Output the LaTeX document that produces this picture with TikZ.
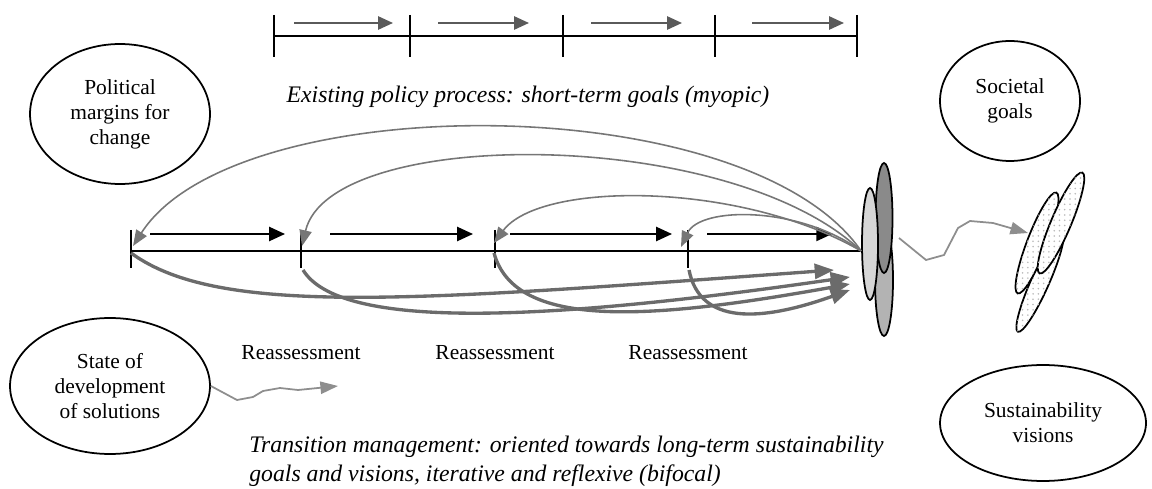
\documentclass[tikz,border=0pt]{standalone}
\usepackage{fontspec}
\setmainfont{Liberation Serif}
\newfontfamily\tnr{Liberation Serif}
\usepackage{tikz}
\usetikzlibrary{arrows.meta, positioning, shapes.geometric, patterns, calc}
\definecolor{arcgray}{HTML}{767676}
\definecolor{pushgray}{HTML}{6B6B6B}
\definecolor{topgray}{HTML}{5A5A5A}
\definecolor{driftgray}{HTML}{8E8E8E}
\definecolor{lowfill}{HTML}{B3B3B3}
\definecolor{darkfill}{HTML}{8A8A8A}
\definecolor{lightfill}{HTML}{D6D6D6}
\newcommand{\Txt}{\tnr\fontsize{12.2}{14.2}\selectfont}
\newcommand{\Slant}{\tnr\fontsize{13.5}{16.5}\selectfont\itshape}
\tikzset{
    tick/.pic = {
    \draw[line width=1.1pt] (0,-21) -- (0,#1);
    },
    goal/.style={draw, ellipse, line width=1pt, inner sep=0pt, align=center, font=\Txt},
    blob/.style={draw, ellipse, line width=1pt, inner sep=0pt},
    vision/.style={blob, fill=white, postaction={pattern=dots, pattern color=gray!55}},
    note/.style={inner sep=0pt, font=\Txt},
    lead/.style={line width=1.1pt, -{Triangle[length=9pt, width=8pt]}},
    runner/.style={topgray, line width=1.2pt, -{Triangle[length=8.5pt, width=7.5pt]}},
    back/.style={arcgray, line width=0.9pt, -{Triangle[length=9pt, width=7pt]}},
    push/.style={pushgray, line width=1.9pt, -{Triangle[length=11pt, width=8.5pt]}},
    drift/.style={driftgray, line width=1pt, -{Triangle[length=10pt, width=7pt]}},
}

\begin{document}
\begin{tikzpicture}[x=0.02cm, y=-0.02cm]
    \tikzset{
      node distance=1cm
    }
    \useasboundingbox (0,0) rectangle (1152,489);

    \coordinate (u0) at (274,36);
    \coordinate (u1) at (410,36);
    \coordinate (u2) at (563,36);
    \coordinate (u3) at (715,36);
    \coordinate (u4) at (857,36);

    \draw[line width=1.1pt] (u0) -- (u4);
    \path (u0) pic {tick=21} (u1) pic {tick=21} (u2) pic {tick=21} (u3) pic {tick=21} (u4) pic {tick=21};

    \draw[runner] ([shift={(20,-13)}]u0) -- ([shift={(-17,-13)}]u1);
    \draw[runner] ([shift={(28,-13)}]u1) -- ([shift={(-34,-13)}]u2);
    \draw[runner] ([shift={(28,-13)}]u2) -- ([shift={(-33,-13)}]u3);
    \draw[runner] ([shift={(37,-13)}]u3) -- ([shift={(-13,-13)}]u4);

    \node[font=\Slant] (ex) at (528,97) {Existing policy process: short-term goals (myopic)};

    \node[goal, minimum width=3.6cm, minimum height=2.8cm] (m) at (120,114) {Political\\margins for\\change};
    \node[goal, minimum width=4cm, minimum height=2.72cm] (s) at (110,386) {State of\\development\\of solutions};
    \node[goal, minimum width=2.8cm, minimum height=2.4cm] (g) at (1010,101) {Societal\\goals};
    \node[goal, minimum width=4.12cm, minimum height=2.32cm] (v) at (1043,423) {Sustainability\\visions};

    \node[blob, fill=lowfill, minimum width=0.36cm, minimum height=2.24cm] (c2) at (884,280) {};
    \node[blob, fill=darkfill, minimum width=0.34cm, minimum height=2.2cm] (c1) at (884,218) {};
    \node[blob, fill=lightfill, minimum width=0.32cm, minimum height=2.24cm] (c0) at (870,244) {};

    \coordinate (t1) at (131,251);
    \coordinate (t2) at (301,251);
    \coordinate (t3) at (495,251);
    \coordinate (t4) at (688,251);
    \coordinate (hub) at (c0.west |- t1);

    \draw[line width=1.1pt] (t1) -- (hub);
    \path (t1) pic {tick=17} (t2) pic {tick=17} (t3) pic {tick=17} (t4) pic {tick=17};

    \draw[lead] ([shift={(19,-17)}]t1) -- ([shift={(-16,-17)}]t2);
    \draw[lead] ([shift={(29,-17)}]t2) -- ([shift={(-22,-17)}]t3);
    \draw[lead] ([shift={(15,-17)}]t3) -- ([shift={(-16,-17)}]t4);
    \draw[lead] ([shift={(19,-17)}]t4) -- ([shift={(-29,-17)}]hub);

    \coordinate (a1) at (133,246);
    \coordinate (a2) at (302,246);
    \coordinate (a3) at (494,243);
    \coordinate (a4) at (681,247);

    \draw[back] (hub) .. controls (748,87) and (235,87) .. (a1);
    \draw[back] (hub) .. controls (730,126) and (330,126) .. (a2);
    \draw[back] (hub) .. controls (740,181) and (540,181) .. (a3);
    \draw[back] (hub) .. controls (800,206) and (700,206) .. (a4);

    \coordinate (b1) at (131,253);
    \coordinate (b2) at (303,270);
    \coordinate (b3) at (494,253);
    \coordinate (b4) at (689,270);
    \coordinate (e1) at (834,270);
    \coordinate (e2) at (850,277);
    \coordinate (e3) at (850,284);
    \coordinate (e4) at (850,290);

    \draw[push] (b1) .. controls (220,318) and (420,300) .. (e1);
    \draw[push] (b2) .. controls (340,330) and (540,322) .. (e2);
    \draw[push] (b3) .. controls (515,330) and (650,320) .. (e3);
    \draw[push] (b4) .. controls (700,325) and (760,322) .. (e4);

    \node[vision, rotate=66, minimum width=2.18cm, minimum height=0.36cm] (q2) at (1040,282) {};
    \node[vision, rotate=69, minimum width=2.16cm, minimum height=0.4cm] (q0) at (1037,243) {};
    \node[vision, rotate=67, minimum width=2.19cm, minimum height=0.4cm] (q1) at (1061,223) {};

    \coordinate (w0) at (899,238);
    \coordinate (w1) at (1028,233);
    \draw[drift] (w0) -- (926,260) -- (944,255) -- (958,228) -- (970,221) -- (993,223) -- (w1);

    \coordinate (w2) at (338,386);
    \draw[drift] (s.east) -- (237,400) -- (253,397) -- (263,391) -- (280,388) -- (298,390) -- (w2);

    \node[note, below=1.88cm of t2] (r1) {Reassessment};
    \node[note, below=1.88cm of t3] (r2) {Reassessment};
    \node[note, below=1.88cm of t4] (r3) {Reassessment};

    \node[anchor=west, align=left, inner sep=0pt, font=\Slant] (tm) at (249,461) {Transition management: oriented towards long-term sustainability\\goals and visions, iterative and reflexive (bifocal)};

  \end{tikzpicture}
\end{document}
